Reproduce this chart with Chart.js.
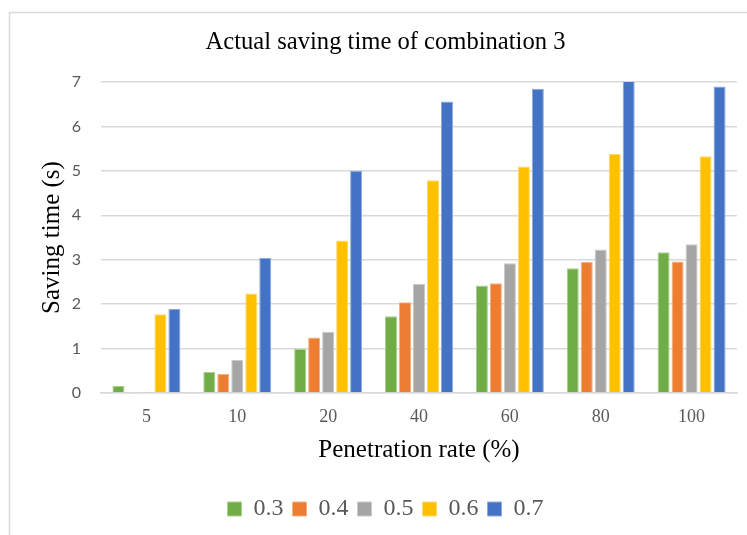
<!DOCTYPE html>
<html>
<head>
<meta charset="utf-8">
<script src="https://cdn.jsdelivr.net/npm/chart.js@4"></script>
<style>
  html, body { margin: 0; padding: 0; background: #ffffff; }
  #wrap { width: 747px; height: 535px; position: relative; }
</style>
</head>
<body>
<div id="wrap"><canvas id="c" width="747" height="535"></canvas></div>
<script>
const categories = ['5', '10', '20', '40', '60', '80', '100'];
const seriesNames = ['0.3', '0.4', '0.5', '0.6', '0.7'];
const s03 = [0.16, 0.47, 0.99, 1.73, 2.42, 2.81, 3.17];
const s04 = [0, 0.43, 1.25, 2.04, 2.47, 2.95, 2.96];
const s05 = [0.03, 0.74, 1.38, 2.46, 2.92, 3.23, 3.35];
const s06 = [1.77, 2.24, 3.43, 4.79, 5.10, 5.38, 5.33];
const s07 = [1.89, 3.04, 5.00, 6.56, 6.85, 7.03, 6.90];
const yTicks = [0, 1, 2, 3, 4, 5, 6, 7];

const fills = ['#70AD47', '#ED7D31', '#A5A5A5', '#FFC000', '#4472C4'];
const edges = ['#A9D18E', '#F4B183', '#C9C9C9', '#FFD966', '#8FAADC'];
const values = [s03, s04, s05, s06, s07];

const frame = {
  id: 'frame',
  beforeDraw(chart) {
    const ctx = chart.ctx;
    ctx.save();
    ctx.fillStyle = '#ffffff';
    ctx.fillRect(0, 0, chart.width, chart.height);
    ctx.strokeStyle = '#d9d9d9';
    ctx.lineWidth = 1.5;
    ctx.strokeRect(9.5, 12.5, 800, 600);
    ctx.restore();
  }
};

new Chart(document.getElementById('c'), {
  type: 'bar',
  data: {
    labels: categories,
    datasets: seriesNames.map((n, i) => ({
      label: n,
      data: values[i],
      backgroundColor: fills[i],
      borderColor: edges[i],
      borderWidth: 1,
      categoryPercentage: 0.77,
      barPercentage: 0.86
    }))
  },
  options: {
    responsive: false,
    animation: false,
    devicePixelRatio: 1,
    layout: { padding: { left: 34, right: 10, top: 0, bottom: 4 } },
    plugins: {
      title: {
        display: true,
        text: 'Actual saving time of combination 3',
        color: '#000000',
        font: { family: 'Liberation Serif', size: 24.6, weight: 'normal' },
        padding: { top: 28.2, bottom: 24.3 }
      },
      legend: {
        position: 'bottom',
        labels: {
          boxWidth: 14,
          boxHeight: 14,
          padding: 9,
          color: '#595959',
          font: { family: 'Liberation Serif', size: 24 }
        }
      },
      tooltip: { enabled: false }
    },
    scales: {
      x: {
        grid: { display: false, drawTicks: false },
        border: { display: true, color: '#d9d9d9', width: 1.5 },
        ticks: {
          color: '#595959',
          padding: 13,
          font: { family: 'Liberation Serif', size: 18 }
        },
        title: {
          display: true,
          text: 'Penetration rate (%)',
          color: '#000000',
          font: { family: 'Liberation Serif', size: 25 },
          padding: { top: 5, bottom: 23 }
        },
        afterFit(scale) { scale.height = 95; }
      },
      y: {
        min: 0,
        max: 7,
        grid: { color: '#d9d9d9', lineWidth: 1.5, drawTicks: false },
        border: { display: false },
        afterBuildTicks(scale) { scale.ticks = yTicks.map(v => ({ value: v })); },
        ticks: {
          color: '#595959',
          padding: 20,
          font: { family: 'Lato', size: 16 }
        },
        title: {
          display: true,
          text: 'Saving time (s)',
          color: '#000000',
          font: { family: 'Liberation Serif', size: 25 },
          padding: { top: 3, bottom: 0 }
        },
        afterFit(scale) { scale.width = 67; }
      }
    }
  },
  plugins: [frame]
});
</script>
</body>
</html>
